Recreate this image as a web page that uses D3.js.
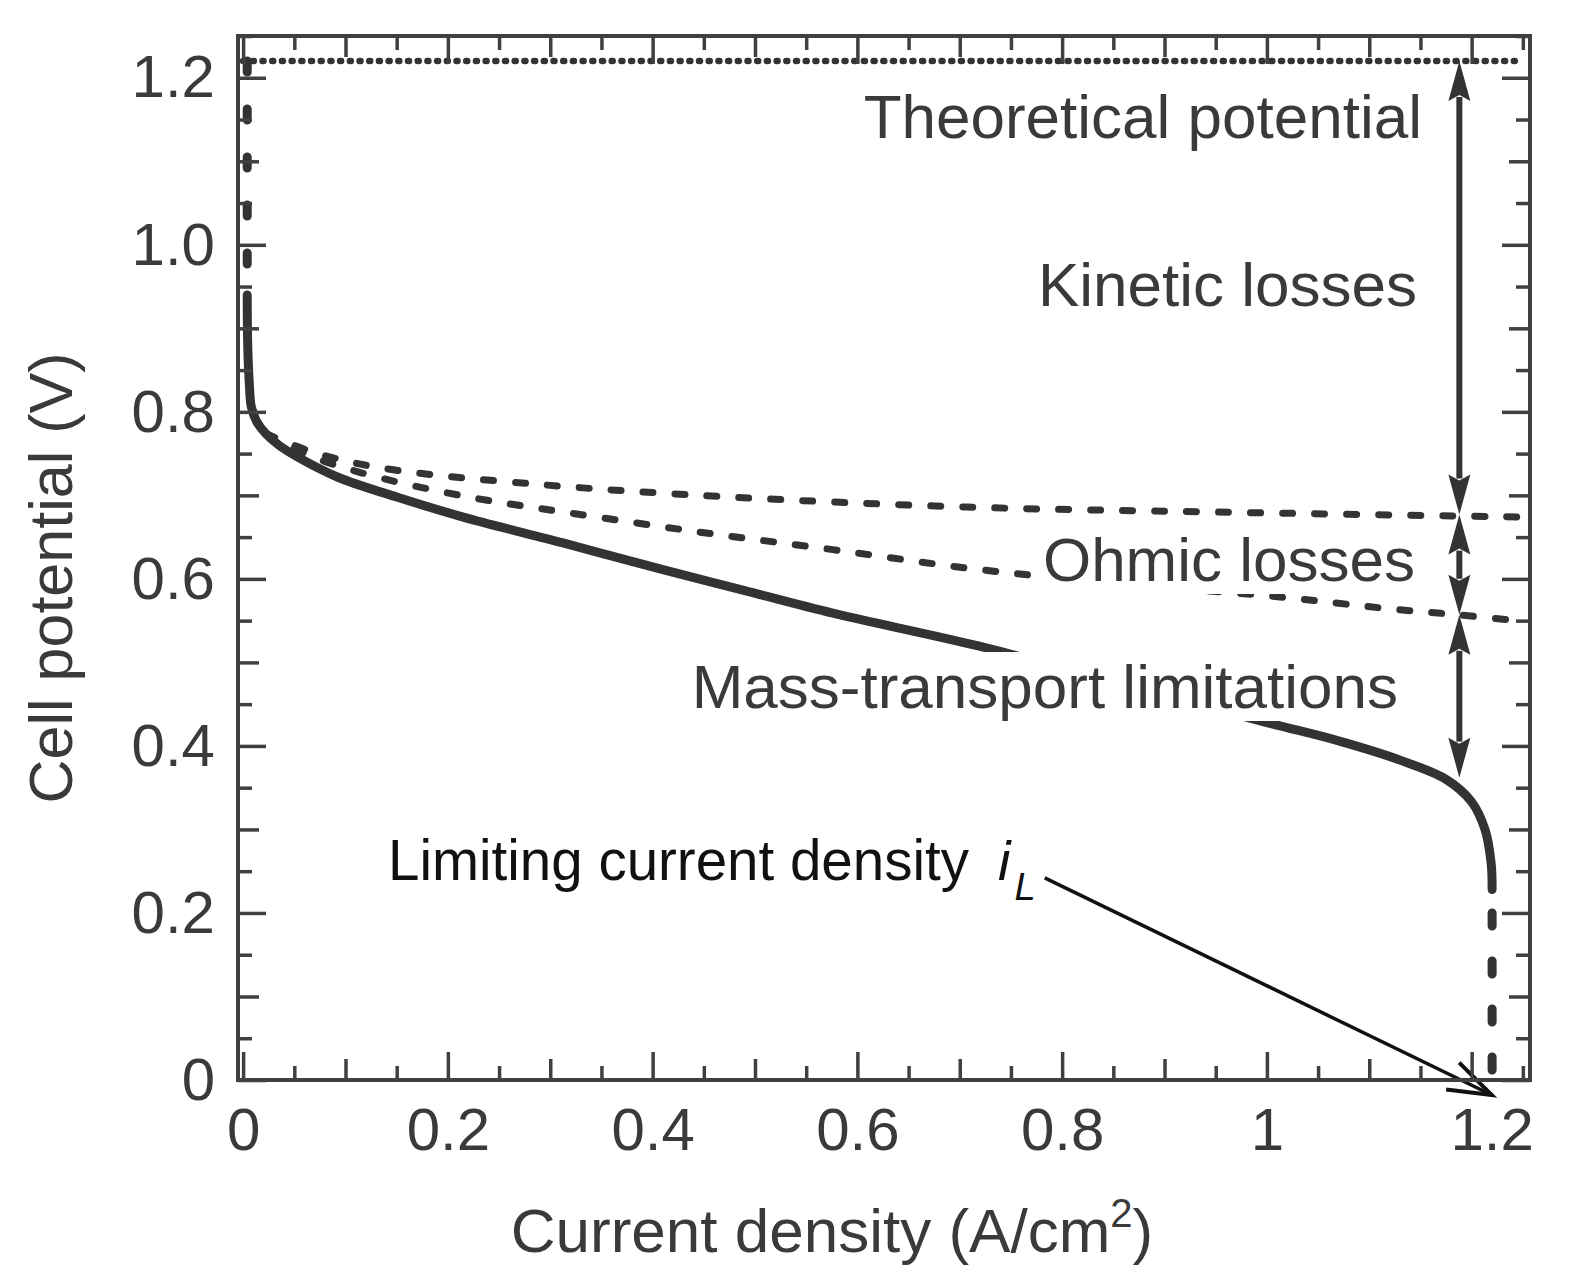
<!DOCTYPE html>
<html>
<head>
<meta charset="utf-8">
<script src="https://cdn.jsdelivr.net/npm/d3@7"></script>
<style>
  body { margin: 0; background: #fff; }
  svg { display: block; font-family: "Liberation Sans", Arial, Helvetica, sans-serif; }
</style>
</head>
<body>
<svg width="1569" height="1283"></svg>
<script>
// measured polarization curve: [current density (A/cm2), cell potential (V)]
var polCurve = [
  [0.004, 0.94], [0.0045, 0.88], [0.006, 0.835], [0.008, 0.806], [0.013, 0.789],
  [0.022, 0.774], [0.035, 0.76], [0.053, 0.746], [0.092, 0.722], [0.15, 0.698],
  [0.215, 0.674], [0.3125, 0.643], [0.41, 0.611], [0.49, 0.586], [0.576, 0.559],
  [0.717, 0.52], [0.85, 0.477], [1.0, 0.428], [1.07, 0.406], [1.13, 0.383],
  [1.175, 0.36], [1.2, 0.333], [1.213, 0.3], [1.219, 0.26], [1.22, 0.228]
];
// kinetic losses only
var kineticLine = [
  [0.022, 0.774], [0.068, 0.752], [0.134, 0.733], [0.29, 0.713], [0.476, 0.698],
  [0.707, 0.686], [0.951, 0.68], [1.254, 0.674]
];
// kinetic + ohmic losses
var ohmicLine = [
  [0.022, 0.774], [0.068, 0.746], [0.134, 0.721], [0.225, 0.697], [0.319, 0.679],
  [0.446, 0.656], [0.576, 0.635], [0.713, 0.612], [0.85, 0.595], [1.016, 0.578],
  [1.113, 0.565], [1.186, 0.557], [1.254, 0.549]
];
var theoreticalLine = [[0, 1.22], [1.25, 1.22]];
var openCircuitDash = [[0.004, 1.22], [0.004, 0.94]];
var limitingDash = [[1.22, 0.2], [1.22, 0]];
// loss bands shown by the double arrows: [current density, top V, bottom V]
var lossArrows = [[1.188, 1.22, 0.677], [1.188, 0.677, 0.557], [1.188, 0.557, 0.362]];
var limitingArrow = [[0.783, 0.242], [1.2197, -0.018]];

var xTickValues = [0, 0.2, 0.4, 0.6, 0.8, 1, 1.2];
var xTickLabels = ['0', '0.2', '0.4', '0.6', '0.8', '1', '1.2'];
var yTickValues = [0, 0.2, 0.4, 0.6, 0.8, 1.0, 1.2];
var yTickLabels = ['0', '0.2', '0.4', '0.6', '0.8', '1.0', '1.2'];

var svg = d3.select('svg');
var margin = {top: 36, right: 39, bottom: 203, left: 238};
var width = 1569 - margin.left - margin.right;
var height = 1283 - margin.top - margin.bottom;
var ink = '#333';
var textInk = '#3a3a3a';

var g = svg.append('g')
    .attr('transform', 'translate(' + margin.left + ',' + margin.top + ')');

var x = d3.scaleLinear().domain([-0.005, 1.257]).range([0, width]);
var y = d3.scaleLinear().domain([0, 1.25]).range([height, 0]);

var smooth = d3.line()
    .x(function(d) { return x(d[0]); })
    .y(function(d) { return y(d[1]); })
    .curve(d3.curveCatmullRom.alpha(0.5));
var straight = d3.line()
    .x(function(d) { return x(d[0]); })
    .y(function(d) { return y(d[1]); });

// lines
g.append('path').attr('d', straight(theoreticalLine))
    .attr('fill', 'none').attr('stroke', ink).attr('stroke-width', 6.5)
    .attr('stroke-linecap', 'round').attr('stroke-dasharray', '1,8.7');

g.append('path').attr('d', straight(openCircuitDash))
    .attr('fill', 'none').attr('stroke', ink).attr('stroke-width', 9)
    .attr('stroke-linecap', 'round').attr('stroke-dasharray', '11,37');

g.append('path').attr('d', straight(limitingDash))
    .attr('fill', 'none').attr('stroke', ink).attr('stroke-width', 9)
    .attr('stroke-linecap', 'round').attr('stroke-dasharray', '13,35');

[kineticLine, ohmicLine].forEach(function(d) {
    g.append('path').attr('d', smooth(d))
        .attr('fill', 'none').attr('stroke', ink).attr('stroke-width', 7)
        .attr('stroke-linecap', 'round').attr('stroke-dasharray', '10,22');
});

g.append('path').attr('d', smooth(polCurve))
    .attr('fill', 'none').attr('stroke', ink).attr('stroke-width', 9)
    .attr('stroke-linecap', 'round');

// annotation labels with white backing
function label(text, px, py, size, color, anchor) {
    var t = svg.append('text')
        .attr('x', px).attr('y', py)
        .attr('text-anchor', anchor || 'end')
        .attr('font-size', size)
        .attr('fill', color)
        .text(text);
    var b = t.node().getBBox();
    svg.insert('rect', function() { return t.node(); })
        .attr('x', b.x).attr('y', b.y).attr('width', b.width).attr('height', b.height)
        .attr('fill', '#fff');
    return t;
}
label('Theoretical potential', 1422, 138, 62, textInk);
label('Kinetic losses', 1417, 306, 62, textInk);
label('Ohmic losses', 1415, 581, 62, textInk);
label('Mass-transport limitations', 1398, 708, 62, textInk);
label('Limiting current density', 388, 880, 56.5, '#111', 'start');

var il = svg.append('text').attr('x', 998).attr('y', 880)
    .attr('font-size', 56).attr('font-style', 'italic').attr('fill', '#111');
il.append('tspan').text('i');
il.append('tspan').attr('font-size', 38).attr('dy', 20).attr('dx', 4).text('L');

// double arrows for the losses
var headLen = 40, headW = 11;
lossArrows.forEach(function(a) {
    var ax = x(a[0]), y0 = y(a[1]), y1 = y(a[2]);
    g.append('line')
        .attr('x1', ax).attr('x2', ax)
        .attr('y1', y0 + headLen - 4).attr('y2', y1 - headLen + 4)
        .attr('stroke', ink).attr('stroke-width', 6);
    g.append('path')
        .attr('d', 'M' + ax + ',' + y0 + 'L' + (ax + headW) + ',' + (y0 + headLen) +
            'L' + ax + ',' + (y0 + headLen - 6) + 'L' + (ax - headW) + ',' + (y0 + headLen) + 'Z')
        .attr('fill', ink);
    g.append('path')
        .attr('d', 'M' + ax + ',' + y1 + 'L' + (ax + headW) + ',' + (y1 - headLen) +
            'L' + ax + ',' + (y1 - headLen + 6) + 'L' + (ax - headW) + ',' + (y1 - headLen) + 'Z')
        .attr('fill', ink);
});

// limiting current arrow (open head)
var p0 = [x(limitingArrow[0][0]), y(limitingArrow[0][1])];
var p1 = [x(limitingArrow[1][0]), y(limitingArrow[1][1])];
var ang = Math.atan2(p1[1] - p0[1], p1[0] - p0[0]);
var armLen = 46, armAng = 0.33;
g.append('line')
    .attr('x1', p0[0]).attr('y1', p0[1]).attr('x2', p1[0]).attr('y2', p1[1])
    .attr('stroke', '#111').attr('stroke-width', 3.5);
g.append('path')
    .attr('d', 'M' + (p1[0] - armLen * Math.cos(ang - armAng)) + ',' + (p1[1] - armLen * Math.sin(ang - armAng)) +
        'L' + p1[0] + ',' + p1[1] +
        'L' + (p1[0] - armLen * Math.cos(ang + armAng)) + ',' + (p1[1] - armLen * Math.sin(ang + armAng)))
    .attr('fill', 'none').attr('stroke', '#111').attr('stroke-width', 4)
    .attr('stroke-linejoin', 'miter');

// ticks on all four sides, pointing inward
var allX = d3.range(0, 1.2501, 0.05);
var allY = d3.range(0, 1.2501, 0.05);
function tickLen(v) {
    var r2 = Math.abs(v / 0.2 - Math.round(v / 0.2));
    var r1 = Math.abs(v / 0.1 - Math.round(v / 0.1));
    if (r2 < 1e-6) return 28;
    if (r1 < 1e-6) return 21;
    return 14;
}
[28, 21, 14].forEach(function(len) {
    var xs = allX.filter(function(v) { return tickLen(v) === len; });
    var ys = allY.filter(function(v) { return tickLen(v) === len; });
    g.append('g').attr('class', 'axis x')
        .attr('transform', 'translate(0,' + height + ')')
        .call(d3.axisBottom(x).tickValues(xs).tickSize(-len).tickFormat(''));
    g.append('g').attr('class', 'axis x2')
        .call(d3.axisTop(x).tickValues(xs).tickSize(-len).tickFormat(''));
    g.append('g').attr('class', 'axis y')
        .call(d3.axisLeft(y).tickValues(ys).tickSize(-len).tickFormat(''));
    g.append('g').attr('class', 'axis y2')
        .attr('transform', 'translate(' + width + ',0)')
        .call(d3.axisRight(y).tickValues(ys).tickSize(-len).tickFormat(''));
});

g.append('g').attr('class', 'axis xl')
    .attr('transform', 'translate(0,' + height + ')')
    .call(d3.axisBottom(x).tickValues(xTickValues).tickSize(0).tickPadding(27)
        .tickFormat(function(d, i) { return xTickLabels[i]; }));
g.append('g').attr('class', 'axis yl')
    .call(d3.axisLeft(y).tickValues(yTickValues).tickSize(0).tickPadding(23)
        .tickFormat(function(d, i) { return yTickLabels[i]; }));

g.selectAll('.axis .domain').remove();
g.selectAll('.axis line').attr('stroke', '#404040').attr('stroke-width', 3.5);
g.selectAll('.axis text')
    .attr('font-size', 60).attr('fill', textInk)
    .attr('font-family', '"Liberation Sans", Arial, Helvetica, sans-serif');
g.selectAll('.xl .tick text').filter(function(d, i) { return i === xTickValues.length - 1; })
    .attr('dx', 20);

// frame
g.append('rect')
    .attr('x', 0).attr('y', 0).attr('width', width).attr('height', height)
    .attr('fill', 'none').attr('stroke', '#404040').attr('stroke-width', 4);

// axis titles
var xt = g.append('text')
    .attr('x', 594).attr('y', 1216)
    .attr('text-anchor', 'middle').attr('font-size', 62).attr('fill', textInk);
xt.append('tspan').text('Current density (A/cm');
xt.append('tspan').attr('font-size', 40).attr('dy', -25).text('2');
xt.append('tspan').attr('dy', 25).text(')');

g.append('text')
    .attr('transform', 'translate(' + (72 - margin.left) + ',' + (578 - margin.top) + ') rotate(-90)')
    .attr('text-anchor', 'middle').attr('font-size', 61).attr('fill', textInk)
    .text('Cell potential (V)');
</script>
</body>
</html>
